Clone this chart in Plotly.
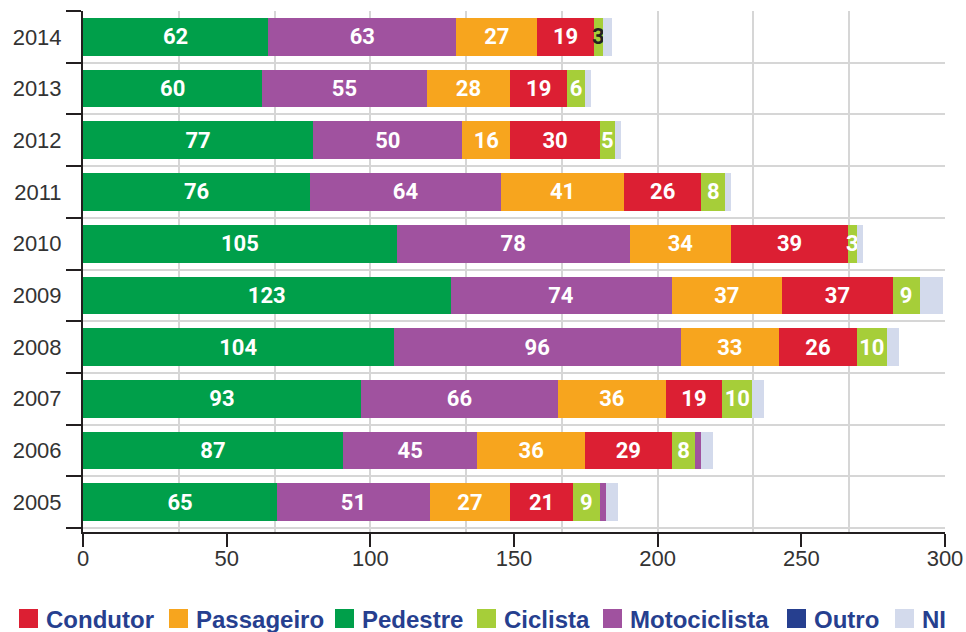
import plotly.graph_objects as go

years = ["2005", "2006", "2007", "2008", "2009", "2010", "2011", "2012", "2013", "2014"]
pedestre = [65, 87, 93, 104, 123, 105, 76, 77, 60, 62]
motociclista = [51, 45, 66, 96, 74, 78, 64, 50, 55, 63]
passageiro = [27, 36, 36, 33, 37, 34, 41, 16, 28, 27]
condutor = [21, 29, 19, 26, 37, 39, 26, 30, 19, 19]
ciclista = [9, 8, 10, 10, 9, 3, 8, 5, 6, 3]
outro = [2, 2, 0, 0, 0, 0, 0, 0, 0, 0]
ni = [4, 4, 4, 4, 8, 2, 2, 2, 2, 3]
axis_ticks = [0, 50, 100, 150, 200, 250, 300]

legend_names = ["Condutor", "Passageiro", "Pedestre", "Ciclista", "Motociclista", "Outro", "NI"]

GREEN = "#009f4a"
PURPLE = "#a0529f"
ORANGE = "#f7a51e"
RED = "#dc1f33"
LIME = "#a6ce39"
NAVY = "#263f8f"
LAVENDER = "#d3daec"
DARK = "#231f20"
GRID = "#d6d6d6"

legend_colors = [RED, ORANGE, GREEN, LIME, PURPLE, NAVY, LAVENDER]

# the bars in the original are drawn a little wider than the printed axis
BAR_MAX = 288.5

W, H = 966, 632
# plot area in page pixels
PL, PR, PT, PB = 83, 945, 11, 532


def px_x(px):
    return (px - PL) / (PR - PL)


def px_y(py):
    return (PB - py) / (PB - PT)


label_font = dict(family="Roboto", size=22, color="white", weight=700)


def segment(values, name, color, text=True, text_colors=None):
    font = dict(label_font)
    if text_colors is not None:
        font["color"] = text_colors
    return go.Bar(
        y=years,
        x=values,
        name=name,
        orientation="h",
        marker=dict(color=color, line=dict(width=0)),
        texttemplate="%{x}" if text else None,
        textposition="inside" if text else "none",
        insidetextanchor="middle",
        constraintext="none",
        textangle=0,
        textfont=font,
        showlegend=False,
        hoverinfo="x+name",
    )


fig = go.Figure()
fig.add_trace(segment(pedestre, "Pedestre", GREEN))
fig.add_trace(segment(motociclista, "Motociclista", PURPLE))
fig.add_trace(segment(passageiro, "Passageiro", ORANGE))
fig.add_trace(segment(condutor, "Condutor", RED))
ciclista_colors = ["white"] * 9 + [DARK]
fig.add_trace(segment(ciclista, "Ciclista", LIME, text_colors=ciclista_colors))
# "Outro" appears purple in the bars but navy in the key
fig.add_trace(segment(outro, "Outro", PURPLE, text=False))
fig.add_trace(segment(ni, "NI", LAVENDER, text=False))

# carrier so the printed 0-300 axis gets drawn
fig.add_trace(go.Scatter(
    x=[axis_ticks[0], axis_ticks[-1]],
    y=[years[0], years[0]],
    xaxis="x2",
    mode="markers",
    marker=dict(opacity=0),
    showlegend=False,
    hoverinfo="skip",
))

# key along the bottom
square_left = [19, 169, 335, 477, 603, 787, 895]
shapes = []
annotations = []
for name, color, left in zip(legend_names, legend_colors, square_left):
    shapes.append(dict(
        type="rect", xref="paper", yref="paper",
        x0=px_x(left), x1=px_x(left + 19),
        y0=px_y(609), y1=px_y(628),
        fillcolor=color, line=dict(width=0),
    ))
    annotations.append(dict(
        xref="paper", yref="paper",
        x=px_x(left + 25), y=px_y(619),
        xanchor="left", yanchor="middle",
        text=name, showarrow=False,
        font=dict(family="Liberation Sans", size=24, color=NAVY, weight=700),
    ))

fig.update_layout(
    width=W,
    height=H,
    barmode="stack",
    bargap=0.27,
    showlegend=False,
    paper_bgcolor="white",
    plot_bgcolor="white",
    margin=dict(l=PL, r=W - PR, t=PT, b=H - PB, autoexpand=False),
    font=dict(family="Liberation Sans", size=22, color="#333333"),
    shapes=shapes,
    annotations=annotations,
    xaxis=dict(
        range=[0, BAR_MAX + 0.01],
        tick0=0,
        dtick=BAR_MAX / 9,
        showgrid=True,
        gridcolor=GRID,
        gridwidth=2,
        showticklabels=False,
        ticks="",
        zeroline=False,
        showline=False,
        fixedrange=True,
    ),
    xaxis2=dict(
        overlaying="x",
        anchor="y",
        side="bottom",
        range=[0, 300],
        tickvals=axis_ticks,
        ticks="outside",
        ticklen=13,
        tickwidth=2,
        tickcolor=DARK,
        ticklabelstandoff=-7,
        showline=True,
        linewidth=2,
        linecolor=DARK,
        showgrid=False,
        zeroline=False,
        tickfont=dict(size=22, color="#333333"),
    ),
    yaxis=dict(
        type="category",
        tickson="boundaries",
        ticks="outside",
        ticklen=15,
        tickwidth=2,
        tickcolor=DARK,
        ticklabelstandoff=15,
        showline=True,
        linewidth=2,
        linecolor=DARK,
        showgrid=True,
        gridcolor=GRID,
        gridwidth=2,
        tickfont=dict(size=22, color="#333333"),
    ),
)

# the page body has a default 8px margin; drop it so the figure fills the window
fig.write_html(
    "out.html",
    config={"displayModeBar": False},
    post_script="document.body.style.margin = '0';",
)
